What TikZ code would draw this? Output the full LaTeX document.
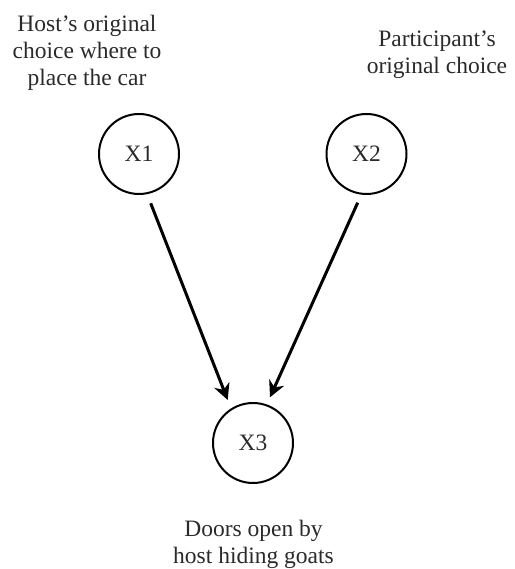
\documentclass[tikz,border=0pt]{standalone}
\usepackage{fontspec}
\setmainfont{Liberation Serif}
\usetikzlibrary{arrows.meta}
\definecolor{txt}{HTML}{2A2A2A}
\tikzset{
  var/.style={circle, draw=black, line width=2pt, minimum size=80pt, inner sep=0pt,
    text=txt, font=\fontsize{23.5pt}{27pt}\selectfont},
  lbl/.style={align=center, text=txt, inner sep=0pt, font=\fontsize{23.5pt}{27pt}\selectfont},
  arr/.style={line width=3pt, -{Stealth[length=16pt, width=16pt, inset=5pt]}}
}
\begin{document}
\begin{tikzpicture}[x=1pt, y=1pt]
\useasboundingbox (0,0) rectangle (514,569);
\node[var] (X1) at (139,415) {X1};
\node[var] (X2) at (366.5,415) {X2};
\node[var] (X3) at (253,126) {X3};
\node[lbl] (L1) at (87,516) {Host's original\\choice where to\\place the car};
\node[lbl] (L2) at (437,514.5) {Participant's\\original choice};
\node[lbl] (L3) at (253.5,25) {Doors open by\\host hiding goats};
\draw[arr] ([shift={(11.7,-49.3)}]X1.center) -- ([shift={(-25.3,43)}]X3.center);
\draw[arr] ([shift={(-8.8,-48.7)}]X2.center) -- ([shift={(17,45.7)}]X3.center);
\end{tikzpicture}
\end{document}
